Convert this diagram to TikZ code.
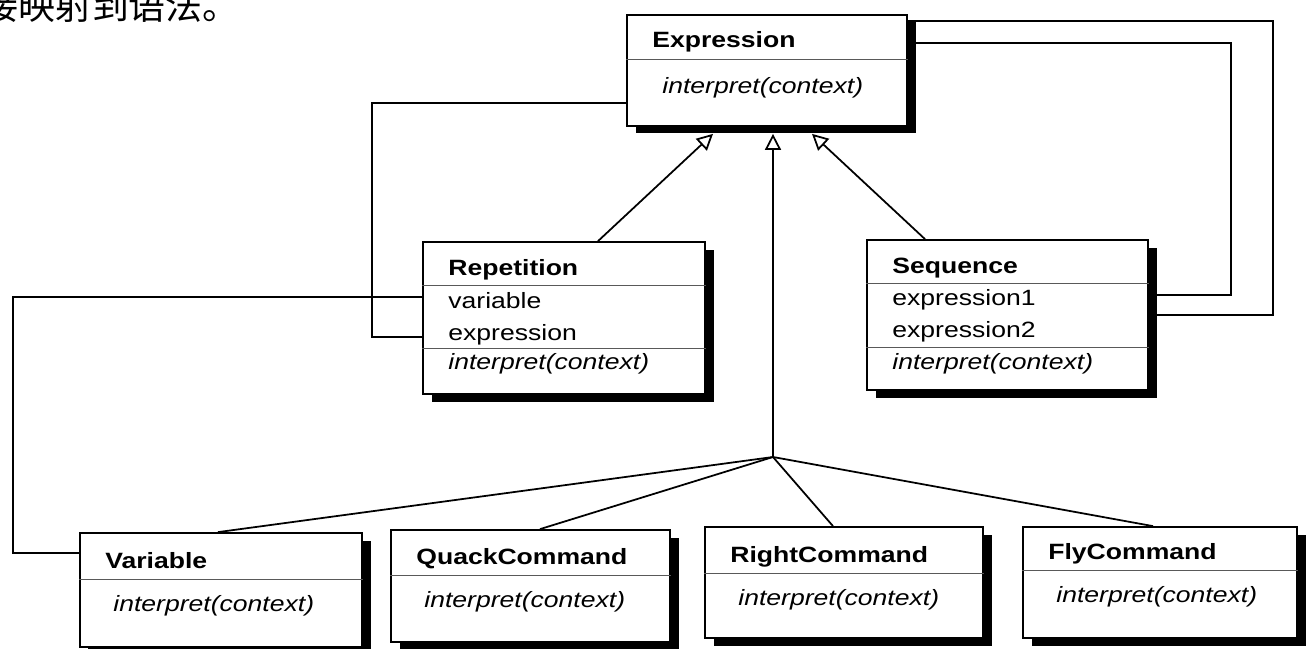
\documentclass[tikz,border=0pt]{standalone}
\usepackage{fontspec}
\setmainfont{Liberation Sans}[FakeStretch=1.2]
\newfontfamily\cjkfont{Noto Sans CJK SC}
\usetikzlibrary{arrows.meta,fit,calc,shadows}

\begin{document}
\begin{tikzpicture}[x=.02cm,y=-.02cm,font=\fontsize{12.6}{14}\selectfont,
 cls/.style={draw,line width=1pt,fill=white,inner sep=0pt,
  drop shadow={shadow xshift=.17cm,shadow yshift=-.15cm,fill=black,opacity=1}},
 sep/.style={black!65,line width=.5pt},
 txt/.style={anchor=base west,inner sep=0pt},
 nm/.style={txt,font=\fontsize{12.6}{14}\selectfont\bfseries},
 op/.style={txt,font=\fontsize{12.6}{14}\selectfont\itshape},
 ln/.style={line width=1pt},
 inh/.style={ln,-{Triangle[fill=white,length=3.2mm,width=3.2mm]}}]
\useasboundingbox (0,0) rectangle (1306,649);
\node[txt,font=\cjkfont\fontsize{21}{22}\selectfont] (note) at (-19,19) {接映射到语法。};

% abstract expression
\node[cls,fit={(627,15)(907,126)}] (expr) {};
\draw[sep] (expr.west |- 0,59) -- (expr.east |- 0,59);
\node[nm] (exprname) at (652,48) {Expression};
\node[op] (exprop) at (662,93) {interpret(context)};

% nonterminals
\node[cls,fit={(423,242)(705,394)}] (rep) {};
\draw[sep] (rep.west |- 0,285) -- (rep.east |- 0,285);
\draw[sep] (rep.west |- 0,348) -- (rep.east |- 0,348);
\node[nm] (repname) at (448,275) {Repetition};
\node[txt] (repvar) at (448,308) {variable};
\node[txt] (repexp) at (448,340) {expression};
\node[op] (repop) at (448,369) {interpret(context)};

\node[cls,fit={(867,240)(1148,390)}] (seq) {};
\draw[sep] (seq.west |- 0,283) -- (seq.east |- 0,283);
\draw[sep] (seq.west |- 0,347) -- (seq.east |- 0,347);
\node[nm] (seqname) at (892,273) {Sequence};
\node[txt] (seqexpa) at (892,305) {expression1};
\node[txt] (seqexpb) at (892,337) {expression2};
\node[op] (seqop) at (892,369) {interpret(context)};

% terminals
\foreach \n/\t/\xa/\ya/\xb/\yb/\d in {var/Variable/80/533/362/647/579,
 quack/QuackCommand/391/530/670/642/575,right/RightCommand/705/527/983/638/573,
 fly/FlyCommand/1023/527/1297/638/570} {
 \node[cls,fit={(\xa,\ya)(\xb,\yb)}] (\n) {};
 \draw[sep] (\n.west |- 0,\d) -- (\n.east |- 0,\d);
 \node[nm] (\n-name) at (\xa+25,\d-11) {\t};
 \node[op] (\n-op) at (\xa+33,\d+32) {interpret(context)};}

% inheritance
\coordinate (fork) at (773,457);
\draw[inh] (fork) -- ($(expr.south -| fork)+(0,7)$);
\draw[inh] (rep.north -| 598,0) -- ($(expr.south -| 713,0)+(0,7)$);
\draw[inh] (seq.north -| 925,0) -- ($(expr.south -| 812,0)+(0,7)$);
\foreach \n/\x in {var/218,quack/540,right/833,fly/1153}
 \draw[ln] (fork) -- (\n.north -| \x,0);

% associations
\draw[ln] (expr.west |- 0,103) -| (372,337) -- (rep.west |- 0,337);
\draw[ln] (rep.west |- 0,297) -| (13,553) -- (var.west |- 0,553);
\draw[ln] (expr.east |- 0,21) -| (1273,315) -- (seq.east |- 0,315);
\draw[ln] (expr.east |- 0,43) -| (1231,295) -- (seq.east |- 0,295);
\end{tikzpicture}
\end{document}
